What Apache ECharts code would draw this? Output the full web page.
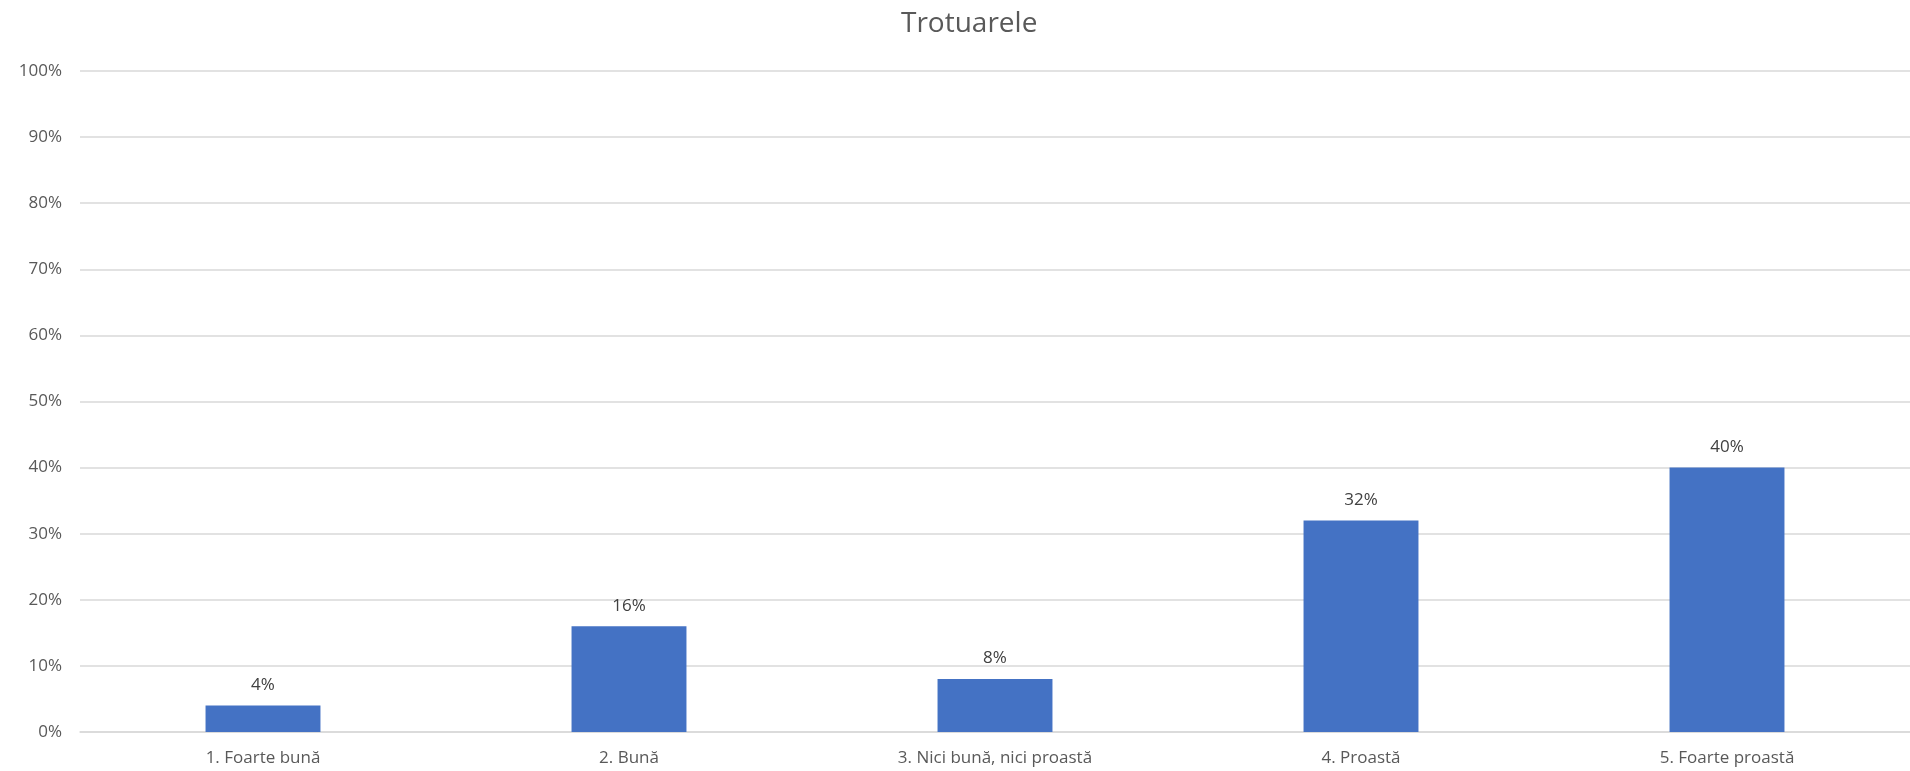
<!DOCTYPE html>
<html><head><meta charset="utf-8">
<script src="https://cdn.jsdelivr.net/npm/echarts@6/dist/echarts.min.js"></script>
<style>html,body{margin:0;padding:0;background:#fff}#c{width:1910px;height:771px}</style>
</head><body><div id="c"></div>
<script>
const categories = ['1. Foarte bună', '2. Bună', '3. Nici bună, nici proastă', '4. Proastă', '5. Foarte proastă'];
const values = [4, 16, 8, 32, 40];
const title = 'Trotuarele';
const chart = echarts.init(document.getElementById('c'));
const font = "'Open Sans', sans-serif";
chart.setOption({
  animation: false,
  title: {text: title, left: 896, top: 5, textStyle: {fontFamily: font, fontSize: 28, fontWeight: 'normal', color: '#595959'}},
  grid: {left: 80, right: 0, top: 71, bottom: 39, containLabel: false},
  xAxis: {type: 'category', data: categories,
    axisLine: {lineStyle: {color: '#d9d9d9', width: 1.5}}, axisTick: {show: false},
    axisLabel: {fontFamily: font, fontSize: 17, color: '#595959', margin: 18}},
  yAxis: {type: 'value', min: 0, max: 100, interval: 10,
    axisLabel: {formatter: '{value}%', fontFamily: font, fontSize: 17, color: '#595959', margin: 18},
    splitLine: {lineStyle: {color: '#d9d9d9', width: 1.5}}, axisLine: {show: false}, axisTick: {show: false}},
  series: [{type: 'bar', data: values, barWidth: '31.4%', itemStyle: {color: '#4472c4'},
    label: {show: true, position: 'top', distance: 12, formatter: '{c}%', fontFamily: font, fontSize: 17, color: '#404040'}}]
});
</script></body></html>
